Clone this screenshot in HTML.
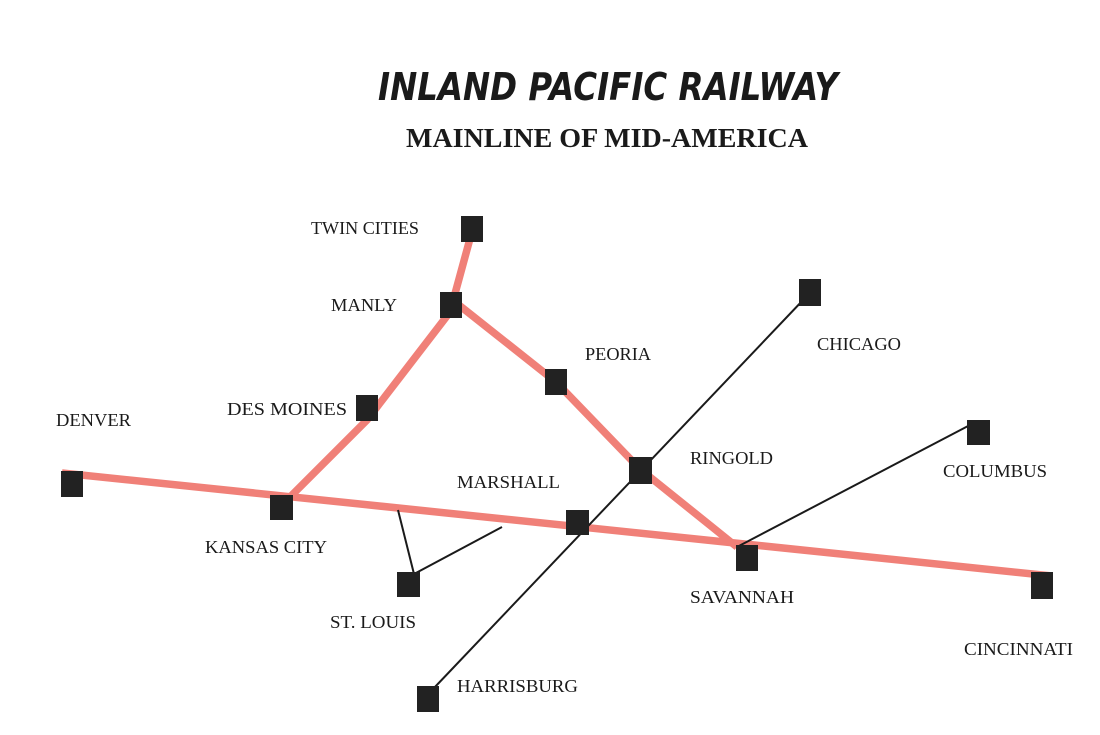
<!DOCTYPE html>
<html><head><meta charset="utf-8"><style>
html,body{margin:0;padding:0;background:#fff;}
svg{display:block;}
.l{font-family:"Liberation Serif",serif;font-size:18px;fill:#1a1a1a;}
</style></head><body>
<svg width="1100" height="735" viewBox="0 0 1100 735" xmlns="http://www.w3.org/2000/svg">
<rect width="1100" height="735" fill="#fff"/>
<text x="378" y="100" font-family="DejaVu Sans,Liberation Sans,sans-serif" font-weight="bold" font-style="italic" font-size="38" fill="#1a1a1a" textLength="460" lengthAdjust="spacingAndGlyphs">INLAND PACIFIC RAILWAY</text>
<text x="406" y="147" font-family="Liberation Serif,serif" font-weight="bold" font-size="27" fill="#1a1a1a" textLength="402" lengthAdjust="spacingAndGlyphs">MAINLINE OF MID-AMERICA</text>

<g stroke="#f08078" stroke-width="7.5" fill="none" stroke-linecap="butt">
<line x1="62" y1="473" x2="1052" y2="576"/>
<polyline points="282,505 367,420 450,312 471,235"/>
<polyline points="450,298 556,382 640,469 737,547"/>
</g>
<g stroke="#1a1a1a" stroke-width="2" fill="none">
<line x1="434" y1="688" x2="805" y2="298"/>
<line x1="737" y1="547" x2="970" y2="425"/>
<polyline points="398,510 414,574 502,527"/>
</g>
<g fill="#222">
<rect x="61" y="471" width="22" height="26"/>
<rect x="461" y="216" width="22" height="26"/>
<rect x="440" y="292" width="22" height="26"/>
<rect x="356" y="395" width="22" height="26"/>
<rect x="270" y="495" width="23" height="25"/>
<rect x="545" y="369" width="22" height="26"/>
<rect x="629" y="457" width="23" height="27"/>
<rect x="566" y="510" width="23" height="25"/>
<rect x="736" y="545" width="22" height="26"/>
<rect x="1031" y="572" width="22" height="27"/>
<rect x="799" y="279" width="22" height="27"/>
<rect x="967" y="420" width="23" height="25"/>
<rect x="397" y="572" width="23" height="25"/>
<rect x="417" y="686" width="22" height="26"/>
</g>
<g class="l">
<text class="l" x="311" y="234" textLength="108" lengthAdjust="spacingAndGlyphs">TWIN CITIES</text>
<text class="l" x="331" y="311" textLength="66" lengthAdjust="spacingAndGlyphs">MANLY</text>
<text class="l" x="227" y="415" textLength="120" lengthAdjust="spacingAndGlyphs">DES MOINES</text>
<text class="l" x="56" y="426" textLength="75" lengthAdjust="spacingAndGlyphs">DENVER</text>
<text class="l" x="585" y="360" textLength="66" lengthAdjust="spacingAndGlyphs">PEORIA</text>
<text class="l" x="817" y="350" textLength="84" lengthAdjust="spacingAndGlyphs">CHICAGO</text>
<text class="l" x="690" y="464" textLength="83" lengthAdjust="spacingAndGlyphs">RINGOLD</text>
<text class="l" x="943" y="477" textLength="104" lengthAdjust="spacingAndGlyphs">COLUMBUS</text>
<text class="l" x="457" y="488" textLength="103" lengthAdjust="spacingAndGlyphs">MARSHALL</text>
<text class="l" x="205" y="553" textLength="122" lengthAdjust="spacingAndGlyphs">KANSAS CITY</text>
<text class="l" x="690" y="603" textLength="104" lengthAdjust="spacingAndGlyphs">SAVANNAH</text>
<text class="l" x="330" y="628" textLength="86" lengthAdjust="spacingAndGlyphs">ST. LOUIS</text>
<text class="l" x="964" y="655" textLength="109" lengthAdjust="spacingAndGlyphs">CINCINNATI</text>
<text class="l" x="457" y="692" textLength="121" lengthAdjust="spacingAndGlyphs">HARRISBURG</text>
</g>
</svg>
</body></html>
